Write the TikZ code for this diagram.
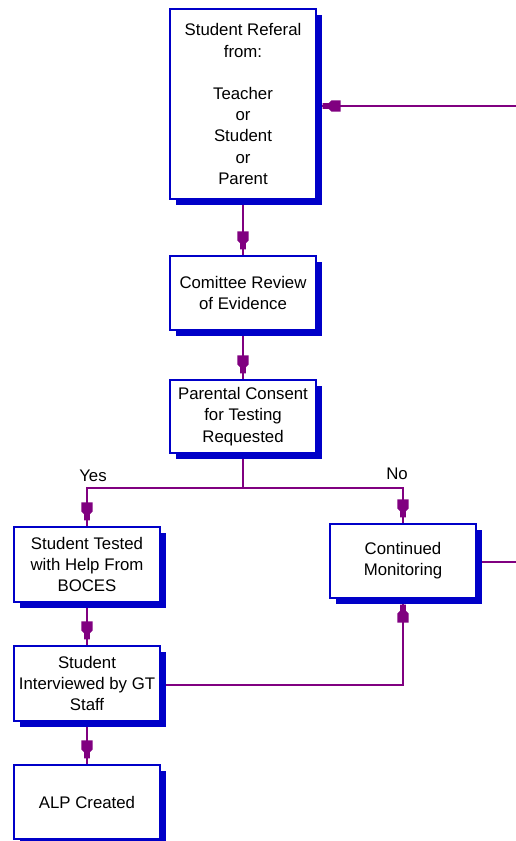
\documentclass[tikz,border=0pt]{standalone}
\usepackage{fontspec}
\setmainfont{Liberation Sans}
\usetikzlibrary{shadows,backgrounds}
\definecolor{boxblue}{RGB}{0,0,200}
\definecolor{flowpurple}{RGB}{128,0,128}
\pgfdeclarearrow{
  name = FlowTip,
  setup code = {
    \pgfarrowssettipend{0pt}
    \pgfarrowssetbackend{-24pt}
    \pgfarrowssetlineend{0pt}
    \pgfarrowssetvisualbackend{-24pt}
    \pgfarrowsupperhullpoint{0pt}{5.6pt}
    \pgfarrowsupperhullpoint{-24pt}{5.6pt}
  },
  drawing code = {
    \pgfpathmoveto{\pgfqpoint{-6pt}{-2.8pt}}
    \pgfpathlineto{\pgfqpoint{-6pt}{2.8pt}}
    \pgfpathlineto{\pgfqpoint{-12pt}{2.8pt}}
    \pgfpathlineto{\pgfqpoint{-15pt}{5.6pt}}
    \pgfpathlineto{\pgfqpoint{-24pt}{5.6pt}}
    \pgfpathlineto{\pgfqpoint{-24pt}{-5.6pt}}
    \pgfpathlineto{\pgfqpoint{-15pt}{-5.6pt}}
    \pgfpathlineto{\pgfqpoint{-12pt}{-2.8pt}}
    \pgfpathclose
    \pgfusepathqfill
  }
}
\tikzset{
  box/.style={draw=boxblue, line width=1.1pt, fill=white, inner sep=0pt,
    align=center, minimum width=146pt,
    font=\fontsize{16.8}{21.2}\selectfont,
    drop shadow={shadow xshift=5.5pt, shadow yshift=-5.5pt, fill=boxblue, opacity=1}},
  flow/.style={color=flowpurple, line width=1.3pt},
  flowarrow/.style={flow, -{FlowTip}},
  lbl/.style={inner sep=0pt, font=\fontsize{16.8}{21.2}\selectfont}
}
\begin{document}
\begin{tikzpicture}[x=1pt, y=-1pt]
\useasboundingbox (0,0) rectangle (516,841);
\node[box, minimum height=190pt] (b1) at (243,104)
  {Student Referal\\from:\\[21.2pt]Teacher\\or\\Student\\or\\Parent};
\node[box, minimum height=74pt] (b2) at (243,293) {Comittee Review\\of Evidence};
\node[box, minimum height=73pt] (b3) at (243,416.5) {Parental Consent\\for Testing\\Requested};
\node[box, minimum height=75pt] (b4) at (87,564.5) {Student Tested\\with Help From\\BOCES};
\node[box, minimum height=74pt] (b5) at (403,561) {Continued\\Monitoring};
\node[box, minimum height=75pt] (b6) at (87,683.5) {Student\\Interviewed by GT\\Staff};
\node[box, minimum height=74pt] (b7) at (87,802) {ALP Created};
\node[lbl] (yes) at (93,476) {Yes};
\node[lbl] (no) at (397,474) {No};
\coordinate (split) at (243,488);
\coordinate (in1) at (516,106);
\coordinate (out1) at (516,562);
\begin{pgfonlayer}{background}
\draw[flowarrow] (b1.south) -- (b2.north);
\draw[flowarrow] (b2.south) -- (b3.north);
\draw[flow] (b3.south) -- (split);
\draw[flowarrow] (split) -| (b4.north);
\draw[flowarrow] (split) -| (b5.north);
\draw[flowarrow] (b4.south) -- (b6.north);
\draw[flowarrow] (b6.south) -- (b7.north);
\draw[flowarrow] ([yshift=-1.5pt]b6.east) -| (b5.south);
\draw[flow] (b5.east |- out1) -- (out1);
\draw[flowarrow] (in1) -- (in1 -| b1.east);
\end{pgfonlayer}
\end{tikzpicture}
\end{document}
